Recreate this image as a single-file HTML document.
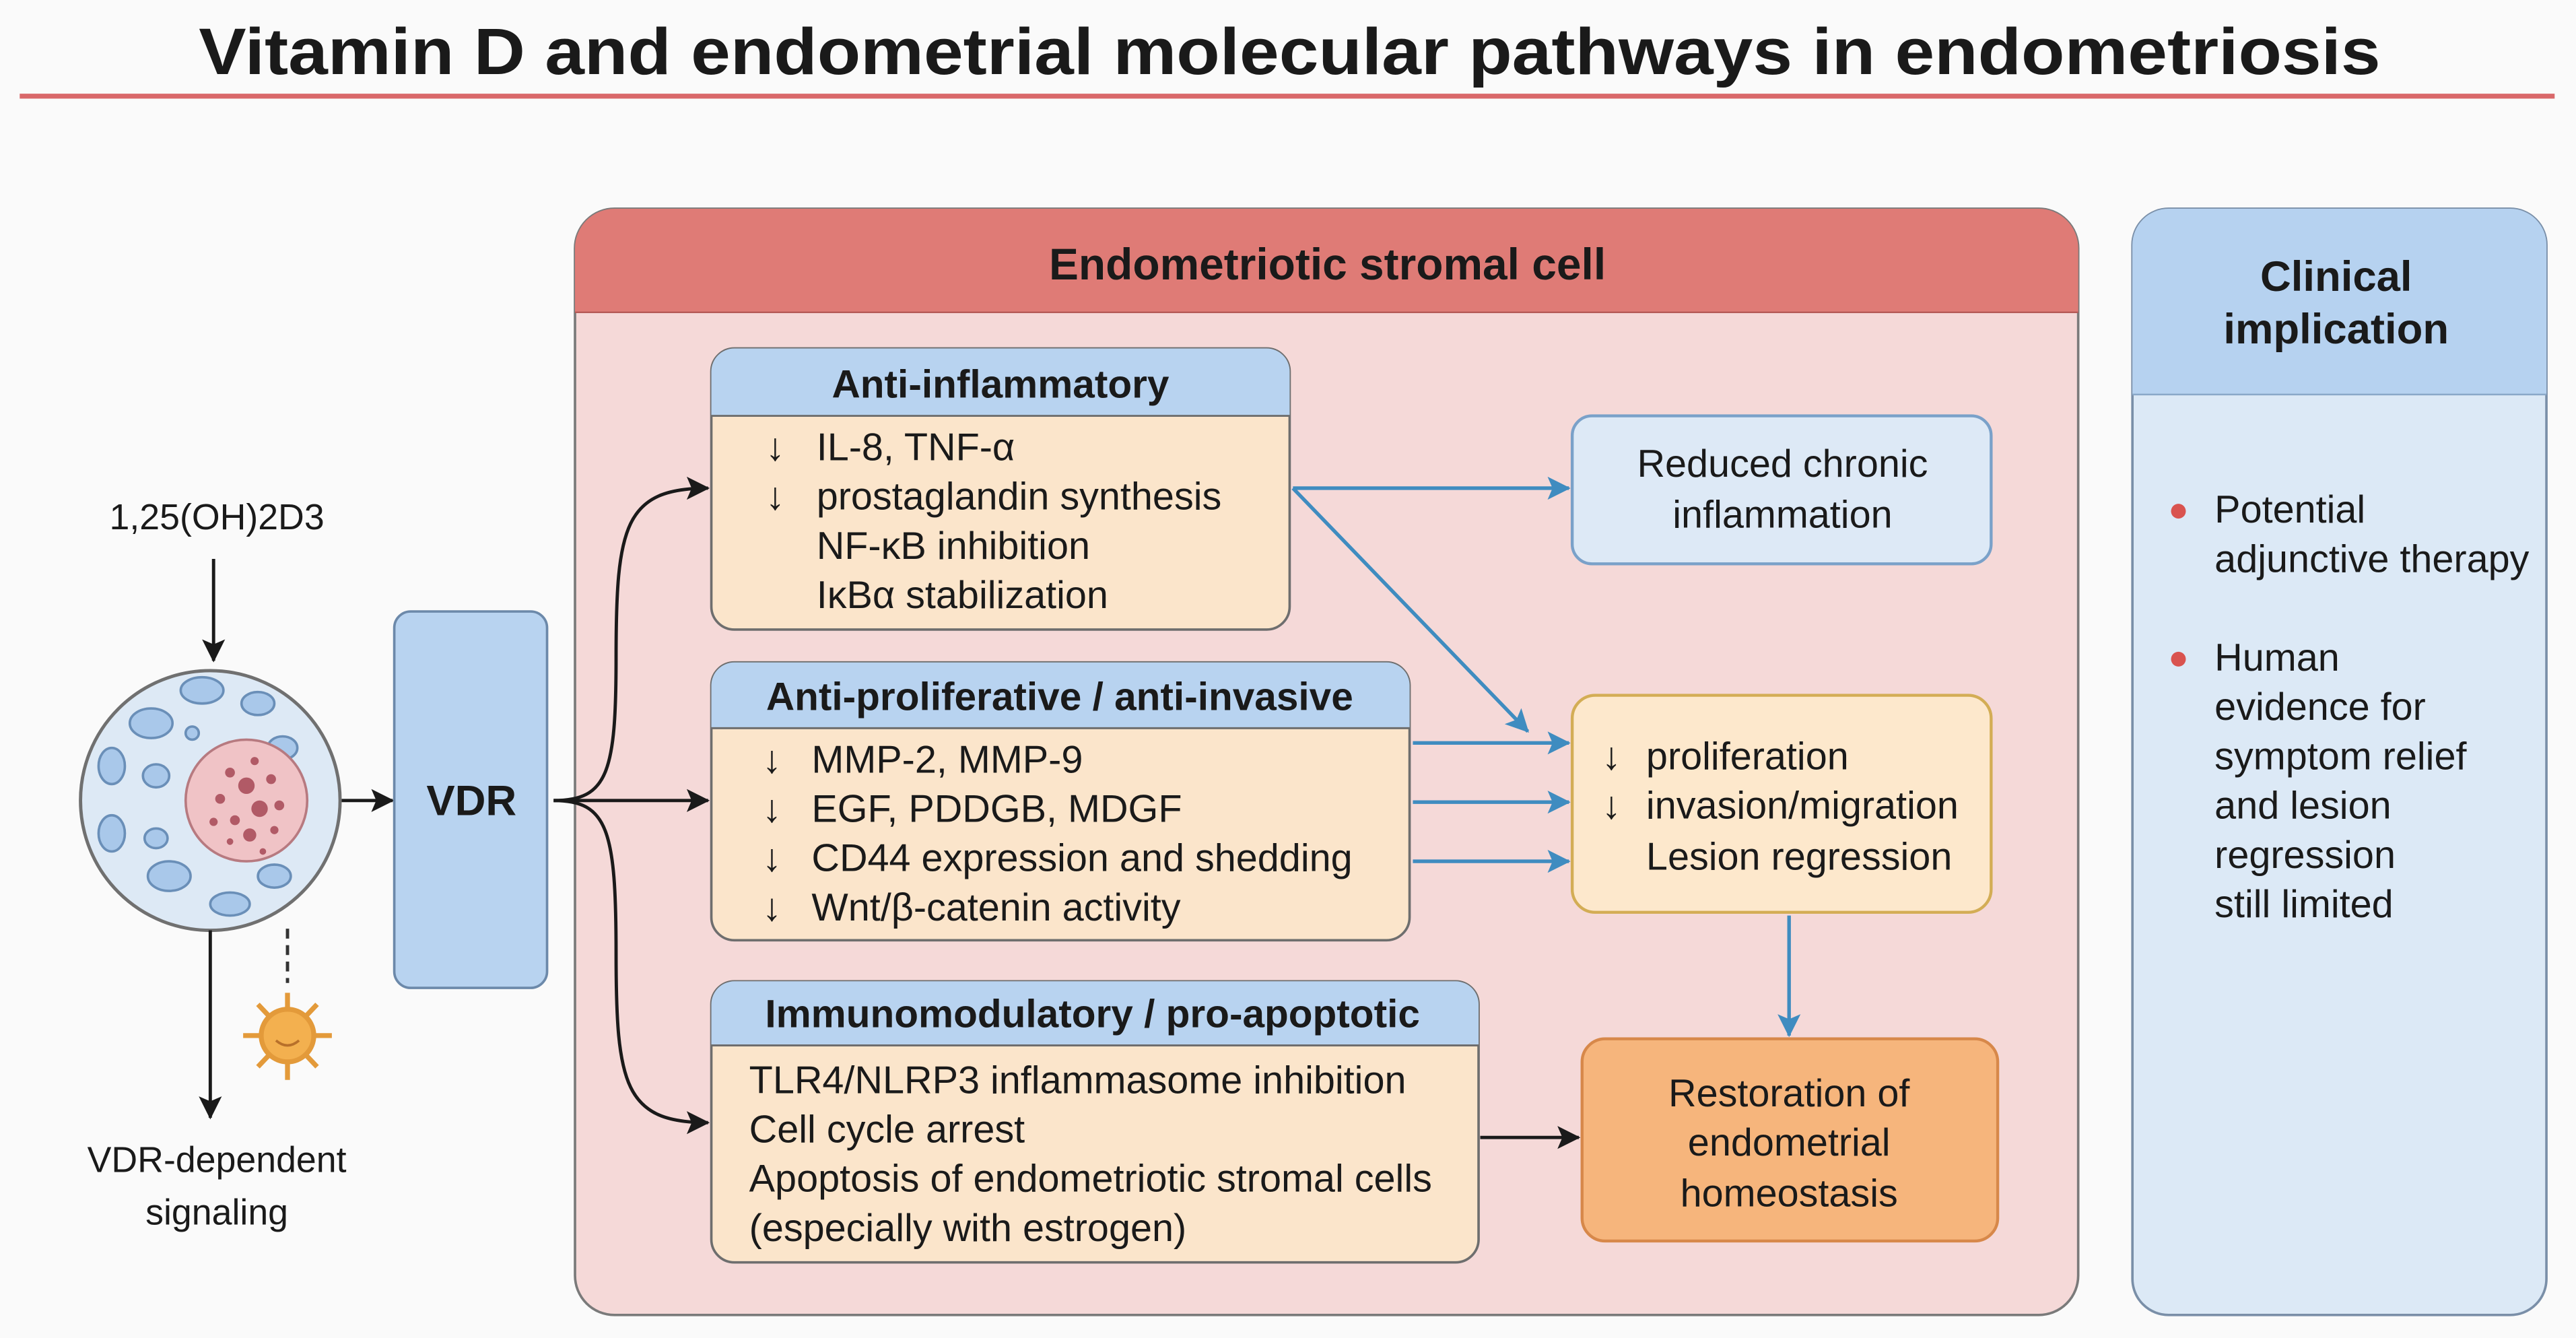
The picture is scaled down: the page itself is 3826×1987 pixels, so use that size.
<!DOCTYPE html>
<html><head><meta charset="utf-8"><style>
html,body{margin:0;padding:0;background:#fafafa;}
svg{display:block;}
text{font-family:"Liberation Sans",sans-serif;fill:#1a1a1a;}
.ar{font-weight:bold;}
</style></head><body>
<svg width="3826" height="1987" viewBox="0 0 1568 814" preserveAspectRatio="none" xmlns="http://www.w3.org/2000/svg">
<defs>
<marker id="akb" markerWidth="14" markerHeight="14" refX="13" refY="7" orient="auto" markerUnits="userSpaceOnUse"><path d="M0,0 L14,7 L0,14 L3,7 Z" fill="#1a1a1a"/></marker>
<marker id="ab" markerWidth="14" markerHeight="14" refX="13" refY="7" orient="auto" markerUnits="userSpaceOnUse"><path d="M0,0 L14,7 L0,14 L3,7 Z" fill="#3f8cc0"/></marker>
</defs>
<rect width="1568" height="814" fill="#fafafa"/>
<text x="785" y="45" font-size="40" font-weight="bold" text-anchor="middle" textLength="1328" lengthAdjust="spacingAndGlyphs">Vitamin D and endometrial molecular pathways in endometriosis</text>
<rect x="12" y="57" width="1543" height="3" fill="#d9686a"/>

<rect x="350" y="127" width="915" height="673" rx="24" fill="#f5d9d8" stroke="#7a7a7a" stroke-width="1.5"/>
<path d="M350,190 V151 a24,24 0 0 1 24,-24 H1241 a24,24 0 0 1 24,24 V190 Z" fill="#df7b76"/>
<line x1="350" y1="190" x2="1265" y2="190" stroke="#b55a57" stroke-width="1"/>
<text x="808" y="170" font-size="27" font-weight="bold" text-anchor="middle">Endometriotic stromal cell</text>

<rect x="1298" y="127" width="252" height="673" rx="22" fill="#dce9f6" stroke="#7a8fa8" stroke-width="1.5"/>
<path d="M1298,240 V149 a22,22 0 0 1 22,-22 H1528 a22,22 0 0 1 22,22 V240 Z" fill="#b6d2f0"/>
<line x1="1298" y1="240" x2="1550" y2="240" stroke="#8aa8c8" stroke-width="1"/>
<text x="1422" y="177" font-size="26" font-weight="bold" text-anchor="middle">Clinical</text>
<text x="1422" y="209" font-size="26" font-weight="bold" text-anchor="middle">implication</text>
<circle cx="1326" cy="311" r="4.5" fill="#d9534f"/>
<circle cx="1326" cy="401" r="4.5" fill="#d9534f"/>
<g font-size="23.6">
<text x="1348" y="318">Potential</text>
<text x="1348" y="348">adjunctive therapy</text>
<text x="1348" y="408">Human</text>
<text x="1348" y="438">evidence for</text>
<text x="1348" y="468">symptom relief</text>
<text x="1348" y="498">and lesion</text>
<text x="1348" y="528">regression</text>
<text x="1348" y="558">still limited</text>
</g>

<text x="132" y="322" font-size="22" text-anchor="middle">1,25(OH)2D3</text>
<line x1="130" y1="340" x2="130" y2="402" stroke="#1a1a1a" stroke-width="2" marker-end="url(#akb)"/>
<circle cx="128" cy="487" r="79" fill="#dde9f5" stroke="#707070" stroke-width="2"/>
<g fill="#a9c8ea" stroke="#6a8fb8" stroke-width="1.5">
<ellipse cx="123" cy="420" rx="13" ry="8"/>
<ellipse cx="157" cy="428" rx="10" ry="7"/>
<ellipse cx="92" cy="440" rx="13" ry="9"/>
<ellipse cx="117" cy="446" rx="4" ry="4"/>
<ellipse cx="172" cy="455" rx="9" ry="7"/>
<ellipse cx="68" cy="466" rx="8" ry="11"/>
<ellipse cx="95" cy="472" rx="8" ry="7"/>
<ellipse cx="68" cy="507" rx="8" ry="11"/>
<ellipse cx="95" cy="510" rx="7" ry="6"/>
<ellipse cx="103" cy="533" rx="13" ry="9"/>
<ellipse cx="167" cy="533" rx="10" ry="7"/>
<ellipse cx="140" cy="550" rx="12" ry="7"/>
</g>
<circle cx="150" cy="487" r="37" fill="#f0c3c6" stroke="#b77a80" stroke-width="1.5"/>
<g fill="#b15a66">
<circle cx="140" cy="470" r="3"/><circle cx="155" cy="463" r="2.5"/><circle cx="165" cy="474" r="3"/><circle cx="150" cy="478" r="5"/>
<circle cx="134" cy="486" r="3"/><circle cx="170" cy="490" r="3"/><circle cx="158" cy="492" r="5"/><circle cx="143" cy="499" r="3"/>
<circle cx="130" cy="500" r="2.5"/><circle cx="152" cy="508" r="4"/><circle cx="167" cy="505" r="2.5"/><circle cx="140" cy="512" r="2"/><circle cx="160" cy="518" r="2"/>
</g>
<line x1="208" y1="487" x2="239" y2="487" stroke="#1a1a1a" stroke-width="2" marker-end="url(#akb)"/>
<line x1="128" y1="566" x2="128" y2="680" stroke="#1a1a1a" stroke-width="2" marker-end="url(#akb)"/>
<line x1="175" y1="565" x2="175" y2="598" stroke="#333" stroke-width="2" stroke-dasharray="6,4"/>
<g stroke="#e39a3a" stroke-width="3" fill="#f3b04f">
<line x1="175" y1="630" x2="175" y2="604"/><line x1="175" y1="630" x2="175" y2="657"/>
<line x1="175" y1="630" x2="148" y2="630"/><line x1="175" y1="630" x2="202" y2="630"/>
<line x1="175" y1="630" x2="157" y2="611"/><line x1="175" y1="630" x2="193" y2="611"/>
<line x1="175" y1="630" x2="157" y2="649"/><line x1="175" y1="630" x2="193" y2="649"/>
<circle cx="175" cy="630" r="16"/>
</g>
<path d="M168,633 q7,6 14,0" stroke="#b8702a" stroke-width="1.5" fill="none"/>
<text x="132" y="713" font-size="22" text-anchor="middle">VDR-dependent</text>
<text x="132" y="745" font-size="22" text-anchor="middle">signaling</text>

<rect x="240" y="372" width="93" height="229" rx="10" fill="#b8d3f0" stroke="#6c89aa" stroke-width="1.5"/>
<text x="287" y="496" font-size="26" font-weight="bold" text-anchor="middle">VDR</text>

<g stroke="#1a1a1a" stroke-width="2" fill="none">
<path d="M337,487 C370,487 375,470 375,400 C375,320 380,297 431,297" marker-end="url(#akb)"/>
<path d="M337,487 L431,487" marker-end="url(#akb)"/>
<path d="M337,487 C370,487 375,505 375,580 C375,660 380,683 431,683" marker-end="url(#akb)"/>
</g>

<rect x="433" y="212" width="352" height="171" rx="14" fill="#fbe5cb" stroke="#6e6e6e" stroke-width="1.5"/>
<path d="M433,253 V226 a14,14 0 0 1 14,-14 H771 a14,14 0 0 1 14,14 V253 Z" fill="#b8d3f0"/>
<line x1="433" y1="253" x2="785" y2="253" stroke="#6e6e6e" stroke-width="1.2"/>
<text x="609" y="242" font-size="24" font-weight="bold" text-anchor="middle">Anti-inflammatory</text>
<g font-size="23.6">
<text x="466" y="280" class="ar">↓</text><text x="497" y="280">IL-8, TNF-α</text>
<text x="466" y="310" class="ar">↓</text><text x="497" y="310">prostaglandin synthesis</text>
<text x="497" y="340">NF-κB inhibition</text>
<text x="497" y="370">IκBα stabilization</text>
</g>

<rect x="433" y="403" width="425" height="169" rx="14" fill="#fbe5cb" stroke="#6e6e6e" stroke-width="1.5"/>
<path d="M433,443 V417 a14,14 0 0 1 14,-14 H844 a14,14 0 0 1 14,14 V443 Z" fill="#b8d3f0"/>
<line x1="433" y1="443" x2="858" y2="443" stroke="#6e6e6e" stroke-width="1.2"/>
<text x="645" y="432" font-size="24" font-weight="bold" text-anchor="middle">Anti-proliferative / anti-invasive</text>
<g font-size="23.6">
<text x="464" y="470" class="ar">↓</text><text x="494" y="470">MMP-2, MMP-9</text>
<text x="464" y="500" class="ar">↓</text><text x="494" y="500">EGF, PDDGB, MDGF</text>
<text x="464" y="530" class="ar">↓</text><text x="494" y="530">CD44 expression and shedding</text>
<text x="464" y="560" class="ar">↓</text><text x="494" y="560">Wnt/β-catenin activity</text>
</g>

<rect x="433" y="597" width="467" height="171" rx="14" fill="#fbe5cb" stroke="#6e6e6e" stroke-width="1.5"/>
<path d="M433,636 V611 a14,14 0 0 1 14,-14 H886 a14,14 0 0 1 14,14 V636 Z" fill="#b8d3f0"/>
<line x1="433" y1="636" x2="900" y2="636" stroke="#6e6e6e" stroke-width="1.2"/>
<text x="665" y="625" font-size="24" font-weight="bold" text-anchor="middle">Immunomodulatory / pro-apoptotic</text>
<g font-size="23.6">
<text x="456" y="665">TLR4/NLRP3 inflammasome inhibition</text>
<text x="456" y="695">Cell cycle arrest</text>
<text x="456" y="725">Apoptosis of endometriotic stromal cells</text>
<text x="456" y="755">(especially with estrogen)</text>
</g>

<rect x="957" y="253" width="255" height="90" rx="12" fill="#dde9f6" stroke="#7aa1c9" stroke-width="1.8"/>
<text x="1085" y="290" font-size="23.6" text-anchor="middle">Reduced chronic</text>
<text x="1085" y="321" font-size="23.6" text-anchor="middle">inflammation</text>

<rect x="957" y="423" width="255" height="132" rx="14" fill="#fde8cc" stroke="#d3ad55" stroke-width="1.8"/>
<g font-size="23.6">
<text x="975" y="468" class="ar">↓</text><text x="1002" y="468">proliferation</text>
<text x="975" y="498" class="ar">↓</text><text x="1002" y="498">invasion/migration</text>
<text x="1002" y="529">Lesion regression</text>
</g>

<rect x="963" y="632" width="253" height="123" rx="14" fill="#f6b57c" stroke="#d7884a" stroke-width="1.8"/>
<text x="1089" y="673" font-size="23.6" text-anchor="middle">Restoration of</text>
<text x="1089" y="703" font-size="23.6" text-anchor="middle">endometrial</text>
<text x="1089" y="734" font-size="23.6" text-anchor="middle">homeostasis</text>

<g stroke="#3f8cc0" stroke-width="2.2" fill="none">
<line x1="787" y1="297" x2="955" y2="297" marker-end="url(#ab)"/>
<line x1="787" y1="297" x2="930" y2="445" marker-end="url(#ab)"/>
<line x1="860" y1="452" x2="955" y2="452" marker-end="url(#ab)"/>
<line x1="860" y1="488" x2="955" y2="488" marker-end="url(#ab)"/>
<line x1="860" y1="524" x2="955" y2="524" marker-end="url(#ab)"/>
<line x1="1089" y1="557" x2="1089" y2="630" marker-end="url(#ab)"/>
</g>
<line x1="901" y1="692" x2="961" y2="692" stroke="#1a1a1a" stroke-width="2" marker-end="url(#akb)"/>
</svg>
</body></html>
